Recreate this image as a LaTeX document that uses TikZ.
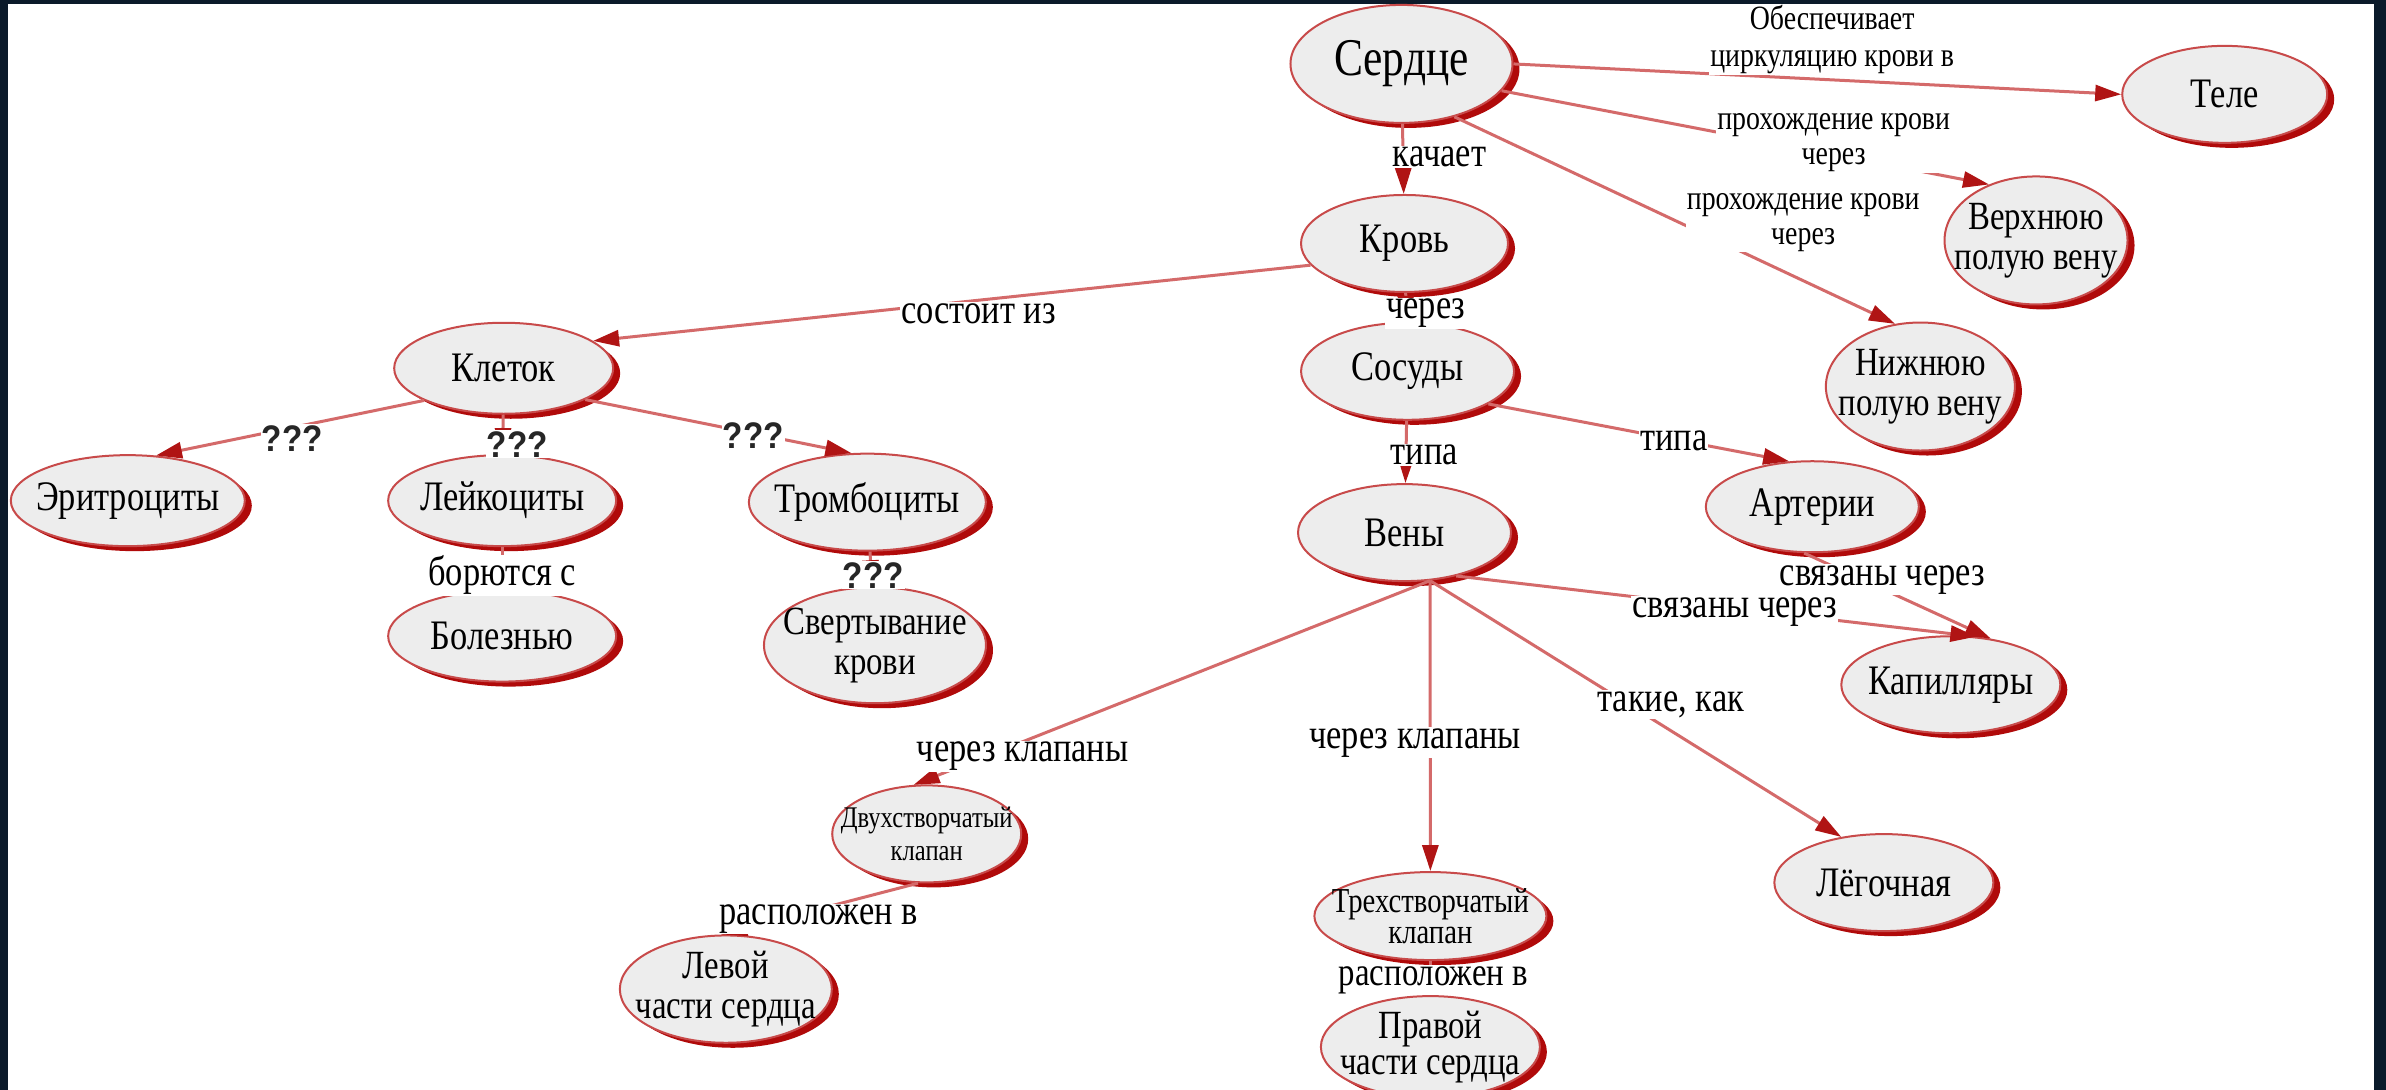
\documentclass[tikz,border=0pt]{standalone}
\usepackage{fontspec}
\setmainfont{Liberation Serif}[FakeStretch=0.82]
\newfontfamily\qfont{Liberation Sans}[FakeStretch=0.9]
\usetikzlibrary{shapes.geometric,arrows.meta,shadows}
\definecolor{navy}{HTML}{0B1A2A}
\definecolor{nodefill}{HTML}{EDEDED}
\definecolor{rimred}{HTML}{C84A4A}
\definecolor{shadred}{HTML}{B00A0A}
\definecolor{linered}{HTML}{D46A6A}
\definecolor{tipred}{HTML}{B01414}
\newcommand{\zw}[1]{\makebox[0pt]{#1}}
\tikzset{
 concept/.style={ellipse, draw=rimred, line width=2pt, fill=nodefill, inner sep=0pt, align=center,
   font=\fontsize{42}{36}\selectfont,
   drop shadow={shadow xshift=7pt, shadow yshift=-5pt, fill=shadred, opacity=1}},
 twoline/.style={font=\fontsize{40}{40}\selectfont},
 link/.style={draw=linered, line width=3pt, -{Triangle[length=26pt,width=16pt,fill=tipred,color=tipred]}},
 lbl/.style={fill=white, inner sep=1pt, align=center, text=black, font=\fontsize{42}{36}\selectfont},
 smlbl/.style={lbl, font=\fontsize{34}{35}\selectfont},
 qlbl/.style={fill=white, inner sep=1pt, text=black!85, font=\qfont\bfseries\fontsize{37}{38}\selectfont},
}
\begin{document}
\begin{tikzpicture}[x=1.5217pt,y=-1.5217pt]
\fill[navy] (0,0) rectangle (1568,716);
\fill[white] (5.3,2.6) rectangle (1560,716);
\useasboundingbox (0,0) rectangle (1568,716);

% nodes
\node[concept, minimum width=222pt, minimum height=118pt, font=\fontsize{53}{56}\selectfont] (serdce) at (921,42) {\zw{Сердце}};
\node[concept, minimum width=205pt, minimum height=97pt] (tele) at (1462,62) {\zw{Теле}};
\node[concept, twoline, minimum width=183pt, minimum height=128pt] (verkh) at (1338,158) {\zw{Верхнюю}\\\zw{полую вену}};
\node[concept, minimum width=207pt, minimum height=97pt] (krov) at (923,160) {\zw{Кровь}};
\node[concept, twoline, minimum width=189pt, minimum height=128pt] (nizh) at (1262,254) {\zw{Нижнюю}\\\zw{полую вену}};
\node[concept, minimum width=219pt, minimum height=91pt] (kletok) at (331,242) {\zw{Клеток}};
\node[concept, minimum width=213pt, minimum height=97pt] (sosudy) at (925,244) {\zw{Сосуды}};
\node[concept, minimum width=234pt, minimum height=91pt] (eritro) at (84,329) {\zw{Эритроциты}};
\node[concept, minimum width=228pt, minimum height=91pt] (leiko) at (330,329) {\zw{Лейкоциты}};
\node[concept, minimum width=237pt, minimum height=97pt] (tromb) at (570,330) {\zw{Тромбоциты}};
\node[concept, minimum width=213pt, minimum height=97pt] (veny) at (923,350) {\zw{Вены}};
\node[concept, minimum width=213pt, minimum height=91pt] (arterii) at (1191,333) {\zw{Артерии}};
\node[concept, minimum width=228pt, minimum height=91pt] (bolezn) at (330,418) {\zw{Болезнью}};
\node[concept, twoline, minimum width=222pt, minimum height=116pt] (sverty) at (575,424) {\zw{Свертывание}\\\zw{крови}};
\node[concept, minimum width=219pt, minimum height=97pt] (kapil) at (1282,450) {\zw{Капилляры}};
\node[concept, minimum width=189pt, minimum height=97pt, font=\fontsize{30}{33}\selectfont] (dvukh) at (609,548) {\zw{Двухстворчатый}\\\zw{клапан}};
\node[concept, minimum width=219pt, minimum height=97pt] (legoch) at (1238,580) {\zw{Лёгочная}};
\node[concept, minimum width=232pt, minimum height=88pt, font=\fontsize{35}{31}\selectfont] (trekh) at (940,602) {\zw{Трехстворчатый}\\\zw{клапан}};
\node[concept, twoline, minimum width=212pt, minimum height=106pt] (levoi) at (477,650) {\zw{Левой}\\\zw{части сердца}};
\node[concept, minimum width=219pt, minimum height=100pt, font=\fontsize{40}{36}\selectfont] (pravoi) at (940,688) {\zw{Правой}\\\zw{части сердца}};

% connectors
\draw[link] (serdce) -- (krov);
\draw[link] (serdce.east) -- (tele.west);
\draw[link] (serdce.-15) -- (verkh.130);
\draw[link] (serdce.-45) -- (nizh.112);
\draw[link] (krov.-167) -- (kletok.17);
\draw[link] (krov) -- (sosudy);
\draw[link] (kletok.-158) -- (eritro.58);
\draw[link] (kletok) -- (leiko);
\draw[link] (kletok.-21) -- (tromb.108);
\draw[link] (leiko) -- (bolezn);
\draw[link] (tromb) -- (sverty);
\draw[link] (sosudy) -- (veny);
\draw[link] (sosudy.-22) -- (arterii.117);
\draw[link] (arterii.-100) -- (kapil.49);
\draw[link] (veny.-40) -- (kapil.62);
\draw[link] (veny.-62) -- (legoch.133);
\draw[link] (veny.-62) -- (dvukh.105);
\draw[link] (veny.-62) -- (trekh.north);
\draw[link] (dvukh.-100) -- (levoi.95);
\draw[link] (trekh) -- (pravoi);

% labels
\node[lbl] (l1) at (946,103) {качает};
\node[smlbl, font=\fontsize{34}{37}\selectfont] (l2) at (1204,26) {Обеспечивает\\циркуляцию крови в};
\node[smlbl] (l3) at (1205,94) {прохождение крови\\через};
\node[smlbl] (l4) at (1185,146) {прохождение крови\\через};
\node[lbl] (l5) at (643,206) {состоит из};
\node[lbl] (l6) at (937,206) {через};
\node[qlbl] (q1) at (192,288) {???};
\node[qlbl] (q2) at (340,292) {???};
\node[qlbl] (q3) at (495,286) {???};
\node[lbl] (l7) at (330,378) {борются с};
\node[qlbl] (q4) at (574,378) {???};
\node[lbl] (l8) at (936,299) {типа};
\node[lbl] (l9) at (1100,290) {типа};
\node[lbl] (l10) at (1237,381) {связаны через};
\node[lbl] (l11) at (1140,402) {связаны через};
\node[lbl] (l12) at (1098,463) {такие, как};
\node[lbl] (l13) at (672,497) {через клапаны};
\node[lbl] (l14) at (930,488) {через клапаны};
\node[lbl] (l15) at (538,604) {расположен в};
\node[lbl, font=\fontsize{40}{36}\selectfont] (l16) at (942,644) {расположен в};
\end{tikzpicture}
\end{document}
